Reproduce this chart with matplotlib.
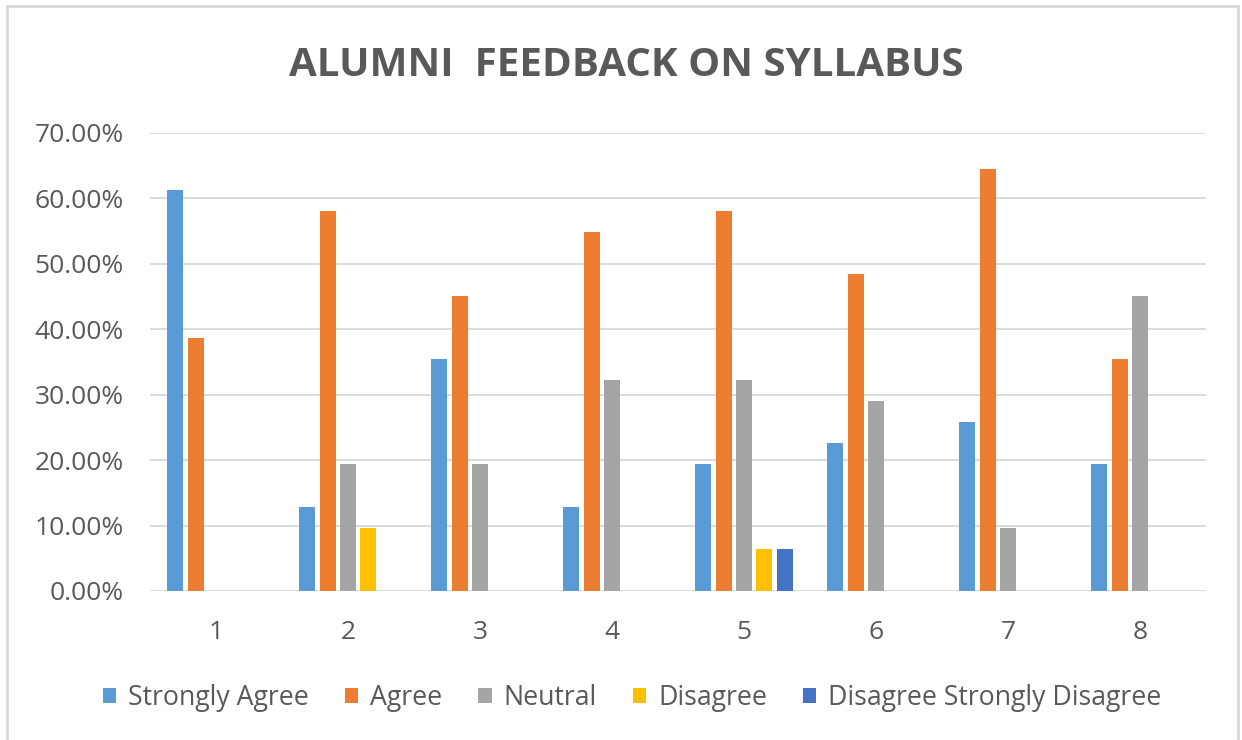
import matplotlib
matplotlib.use("Agg")
import matplotlib.pyplot as plt
from matplotlib.ticker import FuncFormatter
from matplotlib.lines import Line2D
import numpy as np

categories = ["1", "2", "3", "4", "5", "6", "7", "8"]
series_names = ["Strongly Agree", "Agree", "Neutral", "Disagree",
                "Disagree Strongly Disagree"]
strongly_agree = [61.29, 12.90, 35.48, 12.90, 19.35, 22.58, 25.81, 19.35]
agree = [38.71, 58.06, 45.16, 54.84, 58.06, 48.39, 64.52, 35.48]
neutral = [0.0, 19.35, 19.35, 32.26, 32.26, 29.03, 9.68, 45.16]
disagree = [0.0, 9.68, 0.0, 0.0, 6.45, 0.0, 0.0, 0.0]
strongly_disagree = [0.0, 0.0, 0.0, 0.0, 6.45, 0.0, 0.0, 0.0]
colors = ["#5B9BD5", "#ED7D31", "#A5A5A5", "#FFC000", "#4472C4"]
yticks = [0, 10, 20, 30, 40, 50, 60, 70]

plt.rcParams['font.family'] = ['Open Sans', 'DejaVu Sans']
text_color = "#595959"

fig = plt.figure(figsize=(12.42, 7.40), dpi=100)
ax = fig.add_axes([150/1242, 1-591/740, (1206-150)/1242, (591-133)/740])

all_series = [strongly_agree, agree, neutral, disagree, strongly_disagree]
x = np.arange(1, len(categories) + 1)
slot = 0.154
width = 0.12
for i, (vals, name, c) in enumerate(zip(all_series, series_names, colors)):
    ax.bar(x + (i - 2) * slot, vals, width=width, color=c, label=name, zorder=3)

ax.set_xlim(0.5, len(categories) + 0.5)
ax.set_ylim(0, 70)
ax.set_yticks(yticks)
ax.yaxis.set_major_formatter(FuncFormatter(lambda v, p: f"{v:.2f}%"))
ax.set_xticks(x)
ax.set_xticklabels(categories)
for s in ax.spines.values():
    s.set_visible(False)
ax.grid(axis='y', color="#D9D9D9", linewidth=1.3, zorder=0)
ax.set_axisbelow(True)
ax.tick_params(axis='both', length=0, labelsize=19, labelcolor=text_color)
ax.tick_params(axis='y', pad=19)
ax.tick_params(axis='x', pad=21)

fig.text(0.504, 1-66/740, "ALUMNI  FEEDBACK ON SYLLABUS", ha='center', va='center',
         fontsize=29, fontweight='bold', color=text_color)

handles, labels = ax.get_legend_handles_labels()
leg = fig.legend(handles, labels, loc='center', bbox_to_anchor=(0.509, 1-698/740),
                 ncol=5, frameon=False, fontsize=19.2, handlelength=0.5,
                 handleheight=0.5, handletextpad=0.45, columnspacing=1.35,
                 labelcolor=text_color)

# outer border
bc = "#D9D9D9"
fig.add_artist(Line2D([7/1242, 7/1242], [0, 1-6/740], color=bc, lw=2, transform=fig.transFigure))
fig.add_artist(Line2D([7/1242, 1238/1242], [1-6/740, 1-6/740], color=bc, lw=2, transform=fig.transFigure))
fig.add_artist(Line2D([1238/1242, 1238/1242], [0, 1-6/740], color=bc, lw=2, transform=fig.transFigure))

fig.savefig("out.png", dpi=100, facecolor="white")
